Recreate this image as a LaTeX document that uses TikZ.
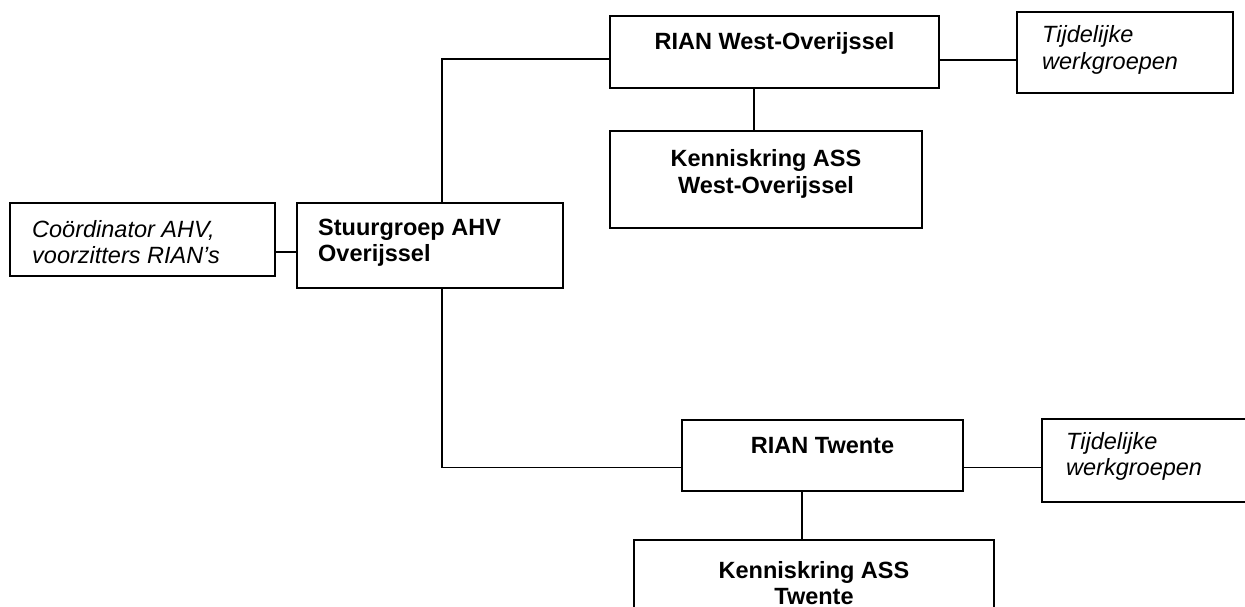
\documentclass[tikz,border=0pt]{standalone}
\usepackage{fontspec}
\setmainfont{Liberation Sans}
\begin{document}
\begin{tikzpicture}[x=1pt,y=-1pt,
  box/.style={draw, line width=1.9pt, rectangle, outer sep=0pt, inner sep=0pt},
  link/.style={line width=1.9pt},
  bl/.style={inner sep=0pt, font=\fontsize{23.5}{26.5}\selectfont\bfseries},
  il/.style={inner sep=0pt, font=\fontsize{23.5}{26.5}\selectfont\itshape}]
\useasboundingbox (0,0) rectangle (1245,607);
\clip (0,0) rectangle (1245,607);
% boxes
\node[box, minimum width=265pt, minimum height=73pt] (coord) at (142.5,239.5) {};
\node[box, minimum width=266pt, minimum height=85pt] (stuur) at (430,245.5) {};
\node[box, minimum width=329pt, minimum height=72pt] (rianw) at (774.5,52) {};
\node[box, minimum width=216pt, minimum height=81pt] (tij1) at (1125,52.5) {};
\node[box, minimum width=312pt, minimum height=97pt] (kw) at (766,179.5) {};
\node[box, minimum width=281pt, minimum height=71pt] (riant) at (822.5,455.5) {};
\node[box, minimum width=258pt, minimum height=83pt] (tij2) at (1171,460.5) {};
\node[box, minimum width=360pt, minimum height=140pt] (kt) at (814,610) {};
% texts
\node[il, anchor=base west] (tcoord) at (32,237) {\begin{tabular}[t]{@{}l@{}}Coördinator AHV,\\voorzitters RIAN’s\end{tabular}};
\node[bl, anchor=base west] (tstuur) at (318,235) {\begin{tabular}[t]{@{}l@{}}Stuurgroep AHV\\Overijssel\end{tabular}};
\node[bl, anchor=base] (trianw) at (774.5,50) {RIAN West-Overijssel};
\node[il, anchor=base west] (ttij1) at (1042,43) {\begin{tabular}[t]{@{}l@{}}Tijdelijke\\werkgroepen\end{tabular}};
\node[bl, anchor=base] (tkw) at (766,167) {\begin{tabular}[t]{@{}c@{}}Kenniskring ASS\\West-Overijssel\end{tabular}};
\node[bl, anchor=base] (triant) at (822.5,453) {RIAN Twente};
\node[il, anchor=base west] (ttij2) at (1066,449) {\begin{tabular}[t]{@{}l@{}}Tijdelijke\\werkgroepen\end{tabular}};
\node[bl, anchor=base] (tkt) at (814,578) {\begin{tabular}[t]{@{}c@{}}Kenniskring ASS\\Twente\end{tabular}};
% connectors
\draw[link] ([yshift=-12.5pt]coord.east) -- ([yshift=-12.5pt]coord.east -| stuur.west);
\draw[link] ([xshift=12pt]stuur.north) |- ([yshift=-7pt]rianw.west);
\draw[link] ([xshift=12pt]stuur.south) |- ([yshift=-12pt]riant.west);
\draw[link] ([yshift=-8pt]rianw.east) -- ([yshift=-8pt]rianw.east -| tij1.west);
\draw[link] ([xshift=-20.5pt]rianw.south) -- ([xshift=-20.5pt]rianw.south |- kw.north);
\draw[link] ([yshift=-12pt]riant.east) -- ([yshift=-12pt]riant.east -| tij2.west);
\draw[link] ([xshift=-20.5pt]riant.south) -- ([xshift=-20.5pt]riant.south |- kt.north);
\end{tikzpicture}
\end{document}
